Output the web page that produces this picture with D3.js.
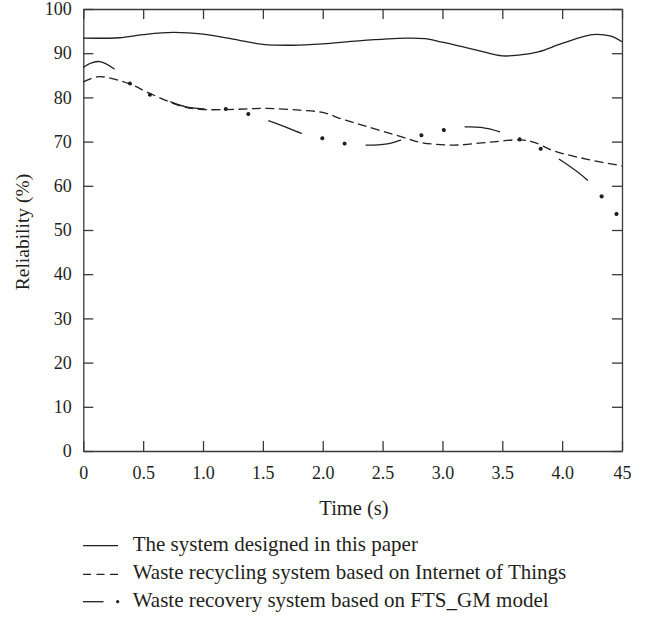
<!DOCTYPE html>
<html>
<head>
<meta charset="utf-8">
<script src="https://cdnjs.cloudflare.com/ajax/libs/d3/7.8.5/d3.min.js"></script>
<style>
  body { margin: 0; background: #fff; }
  text { font-family: "Liberation Serif", "DejaVu Serif", serif; fill: #231f20; }
</style>
</head>
<body>
<div id="chart"></div>
<script>
// tick values and labels
var xTicks = [0, 0.5, 1.0, 1.5, 2.0, 2.5, 3.0, 3.5, 4.0, 4.5];
var xTickLabels = ['0', '0.5', '1.0', '1.5', '2.0', '2.5', '3.0', '3.5', '4.0', '45'];
var yTicks = [0, 10, 20, 30, 40, 50, 60, 70, 80, 90, 100];

var seriesNames = [
  'The system designed in this paper',
  'Waste recycling system based on Internet of Things',
  'Waste recovery system based on FTS_GM model'
];

// series 1: the system designed in this paper
var timeDesigned = [0, 0.3, 0.5, 0.75, 1.0, 1.25, 1.5, 1.75, 2.0, 2.3, 2.7, 2.85, 3.0, 3.3, 3.5, 3.65, 3.8, 4.0, 4.25, 4.4, 4.5];
var relDesigned  = [93.4, 93.5, 94.2, 94.7, 94.3, 93.2, 92.0, 91.8, 92.1, 92.8, 93.4, 93.3, 92.5, 90.6, 89.4, 89.6, 90.3, 92.2, 94.2, 93.9, 92.6];

// series 2: IoT based system
var timeIot = [0, 0.13, 0.39, 0.54, 0.81, 0.975, 1.26, 1.53, 1.81, 2.0, 2.15, 2.26, 2.68, 2.82, 3.09, 3.37, 3.65, 3.76, 3.93, 4.21, 4.5];
var relIot  = [83.5, 84.7, 83.0, 81.1, 78.1, 77.3, 77.3, 77.5, 77.1, 76.6, 75.2, 74.3, 70.9, 69.8, 69.2, 69.8, 70.4, 69.9, 67.9, 66.0, 64.5];

// series 3: FTS_GM model
var timeFts = [0, 0.07, 0.14, 0.25, 0.387, 0.54, 0.7, 0.85, 1.0, 1.18, 1.37, 1.53, 1.67, 1.81, 1.99, 2.17, 2.36, 2.54, 2.66, 2.82, 3.01, 3.18, 3.32, 3.48, 3.645, 3.82, 3.97, 4.21, 4.33, 4.455, 4.48];
var relFts  = [86.8, 87.8, 88.1, 86.6, 83.2, 80.8, 79.3, 77.9, 77.4, 77.4, 76.3, 74.9, 73.5, 72.0, 70.8, 69.6, 69.2, 69.5, 70.4, 71.4, 72.6, 73.3, 73.2, 72.2, 70.5, 68.4, 66.1, 61.3, 57.6, 53.6, 52.8];

(function() {
  var W = 654, H = 618;
  var ink = '#231f20', axisInk = '#3a3a3a';

  var svg = d3.select('#chart').append('svg')
    .attr('width', W).attr('height', H);

  var x = d3.scaleLinear().domain([0, 4.5]).range([83.3, 622]);
  var y = d3.scaleLinear().domain([0, 100]).range([451, 9]);

  // axes, ticks pointing inward on all four sides
  svg.append('g').attr('transform', 'translate(0,451)')
    .call(d3.axisBottom(x).tickValues(xTicks)
      .tickFormat(function(d, i) { return xTickLabels[i]; })
      .tickSize(-10).tickSizeOuter(0).tickPadding(15));
  svg.append('g').attr('transform', 'translate(83.3,0)')
    .call(d3.axisLeft(y).tickValues(yTicks).tickSize(-10).tickSizeOuter(0).tickPadding(11.5));
  svg.append('g').attr('transform', 'translate(0,9)')
    .call(d3.axisTop(x).tickValues(xTicks).tickFormat('').tickSize(-10).tickSizeOuter(0));
  svg.append('g').attr('transform', 'translate(622,0)')
    .call(d3.axisRight(y).tickValues(yTicks).tickFormat('').tickSize(-10).tickSizeOuter(0));

  svg.selectAll('.domain, .tick line').attr('stroke', axisInk).attr('stroke-width', 1.3);
  svg.selectAll('.tick text').attr('font-size', 18).attr('fill', ink)
    .attr('font-family', '"Liberation Serif", serif');

  // axis titles
  svg.append('text').attr('x', 354).attr('y', 515).attr('text-anchor', 'middle')
    .attr('font-size', 20.5).text('Time (s)');
  svg.append('text').attr('transform', 'translate(29,232) rotate(-90)')
    .attr('text-anchor', 'middle').attr('font-size', 19.5).text('Reliability (%)');

  var line = d3.line().curve(d3.curveCatmullRom)
    .x(function(d) { return x(d[0]); })
    .y(function(d) { return y(d[1]); });

  var plot = svg.append('g');

  plot.append('path').datum(d3.zip(timeDesigned, relDesigned))
    .attr('d', line).attr('fill', 'none').attr('stroke', ink).attr('stroke-width', 1.3);

  plot.append('path').datum(d3.zip(timeIot, relIot))
    .attr('d', line).attr('fill', 'none').attr('stroke', ink).attr('stroke-width', 1.3)
    .attr('stroke-dasharray', '9 4.5');

  // dash - dot - dot pattern: long dashes on one path, round dots on another
  var fts = d3.zip(timeFts, relFts);
  plot.append('path').datum(fts)
    .attr('d', line).attr('fill', 'none').attr('stroke', ink).attr('stroke-width', 1.3)
    .attr('stroke-dasharray', '36 65').attr('stroke-dashoffset', 1.5);
  plot.append('path').datum(fts)
    .attr('d', line).attr('fill', 'none').attr('stroke', ink).attr('stroke-width', 4)
    .attr('stroke-linecap', 'round')
    .attr('stroke-dasharray', '0.01 22.99 0.01 77.99').attr('stroke-dashoffset', 45.5);

  // legend
  var rowsY = [545.7, 574.3, 601.7];
  var legend = svg.append('g');
  legend.append('line').attr('x1', 83).attr('x2', 118).attr('y1', rowsY[0]).attr('y2', rowsY[0])
    .attr('stroke', ink).attr('stroke-width', 1.3);
  legend.append('line').attr('x1', 83).attr('x2', 118).attr('y1', rowsY[1]).attr('y2', rowsY[1])
    .attr('stroke', ink).attr('stroke-width', 1.3).attr('stroke-dasharray', '8 5.5');
  legend.append('line').attr('x1', 83).attr('x2', 103.5).attr('y1', rowsY[2]).attr('y2', rowsY[2])
    .attr('stroke', ink).attr('stroke-width', 1.3);
  legend.append('circle').attr('cx', 117.7).attr('cy', rowsY[2]).attr('r', 1.6).attr('fill', ink);

  legend.selectAll('text.lbl').data(seriesNames).enter().append('text')
    .attr('class', 'lbl')
    .attr('x', 132.7)
    .attr('y', function(d, i) { return rowsY[i] + 5; })
    .attr('font-size', 21)
    .text(function(d) { return d; });
})();
</script>
</body>
</html>
